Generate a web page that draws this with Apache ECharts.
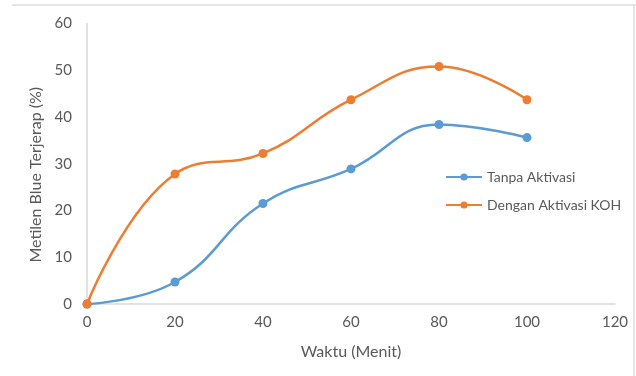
<!DOCTYPE html>
<html>
<head>
<meta charset="utf-8">
<script src="https://cdn.jsdelivr.net/npm/echarts@6/dist/echarts.min.js"></script>
<style>
  html, body { margin: 0; padding: 0; background: #ffffff; }
  #chart { width: 636px; height: 376px; }
</style>
</head>
<body>
<div id="chart"></div>
<script>
// Waktu kontak (menit)
const waktu = [0, 20, 40, 60, 80, 100];
// Metilen blue terjerap (%)
const tanpaAktivasi = [0, 4.7, 21.5, 28.9, 38.4, 35.6];
const denganAktivasiKOH = [0, 27.8, 32.2, 43.7, 50.8, 43.7];
const seriesNames = ['Tanpa Aktivasi', 'Dengan Aktivasi KOH'];

const FONT = 'Lato';
const TEXT = '#595959';

function pairs(xs, ys) {
  return xs.map((x, i) => [x, ys[i]]);
}

const chart = echarts.init(document.getElementById('chart'), null, { renderer: 'canvas' });

function lineSeries(name, values, color) {
  return {
    name: name,
    type: 'line',
    data: pairs(waktu, values),
    smooth: 0.45,
    symbol: 'circle',
    symbolSize: 9,
    lineStyle: { color: color, width: 2.5 },
    itemStyle: { color: color },
    emphasis: { disabled: true }
  };
}

chart.setOption({
  animation: false,
  textStyle: { fontFamily: FONT },
  grid: { left: 87, right: 21, top: 23.5, bottom: 72, containLabel: false },
  legend: {
    orient: 'vertical',
    left: 445,
    top: 170,
    padding: 0,
    itemWidth: 36,
    itemHeight: 9,
    itemGap: 14,
    textStyle: { color: TEXT, fontSize: 14, fontFamily: FONT },
    data: seriesNames
  },
  xAxis: {
    type: 'value',
    min: 0,
    max: 120,
    interval: 20,
    name: 'Waktu (Menit)',
    nameLocation: 'middle',
    nameGap: 40,
    nameTextStyle: { color: TEXT, fontSize: 16, fontFamily: FONT },
    axisLine: { show: true, lineStyle: { color: '#d9d9d9', width: 1.5 } },
    axisTick: { show: false },
    splitLine: { show: false },
    axisLabel: { color: TEXT, fontSize: 15, margin: 11, fontFamily: FONT }
  },
  yAxis: {
    type: 'value',
    min: 0,
    max: 60,
    interval: 10,
    name: 'Metilen Blue Terjerap (%)',
    nameLocation: 'middle',
    nameGap: 37,
    nameTextStyle: { color: TEXT, fontSize: 16, fontFamily: FONT, padding: [0, 22, 0, 0] },
    axisLine: { show: true, lineStyle: { color: '#d9d9d9', width: 1.5 } },
    axisTick: { show: false },
    splitLine: { show: false },
    axisLabel: { color: TEXT, fontSize: 15, margin: 15, fontFamily: FONT }
  },
  series: [
    lineSeries(seriesNames[0], tanpaAktivasi, '#5B9BD5'),
    lineSeries(seriesNames[1], denganAktivasiKOH, '#ED7D31')
  ],
  graphic: [
    { type: 'line', shape: { x1: 12, y1: 5, x2: 636, y2: 5 }, style: { stroke: '#dcdcdc', lineWidth: 1.5 } },
    { type: 'line', shape: { x1: 634, y1: 5, x2: 634, y2: 376 }, style: { stroke: '#dcdcdc', lineWidth: 1.5 } }
  ]
});
</script>
</body>
</html>
